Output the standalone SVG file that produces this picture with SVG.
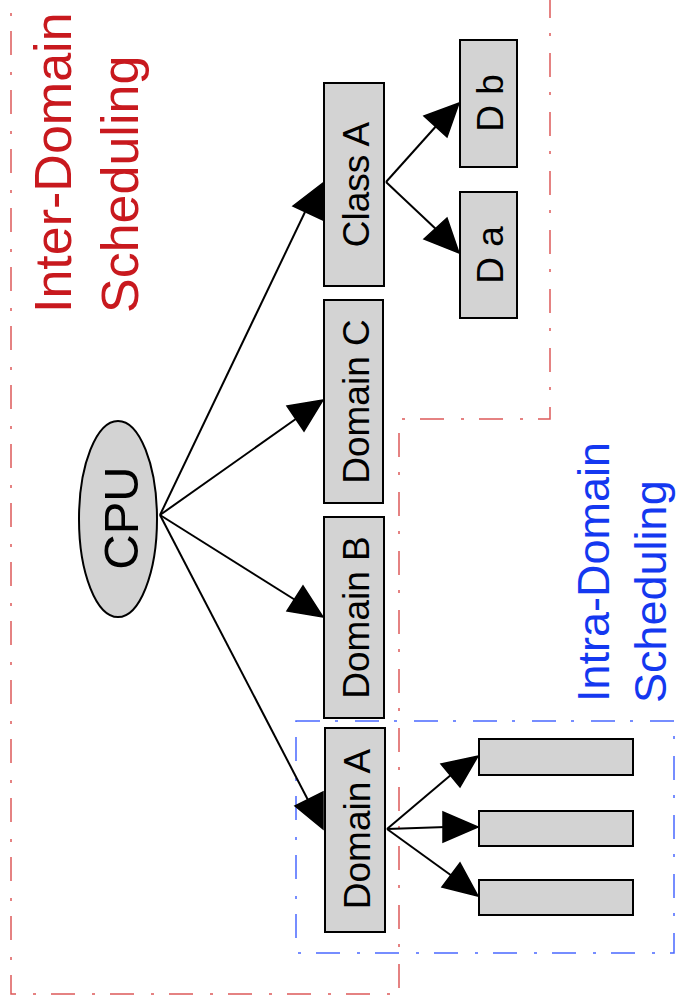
<svg xmlns="http://www.w3.org/2000/svg" width="677" height="1007" viewBox="0 0 677 1007">
  <style>
    .box { fill: #d3d3d3; stroke: #000; stroke-width: 2; }
    .lbl { font-family: "Liberation Sans", Arial, sans-serif; font-size: 37px; fill: #000; text-anchor: middle; }
    .big { font-size: 49px; }
    .edge { stroke: #000; stroke-width: 2; fill: none; }
    .head { fill: #000; stroke: #000; stroke-width: 1.5; stroke-linejoin: miter; }
    .inter { fill: none; stroke: #dd5a5a; stroke-width: 1.5; stroke-dasharray: 24 15 3 17; }
    .intra { fill: none; stroke: #4a68ff; stroke-width: 1.5; stroke-dasharray: 24 15 3 17; }
    .title { font-family: "Liberation Sans", Arial, sans-serif; }
  </style>

  <!-- scheduling regions -->
  <g id="regions">
    <path class="inter" d="M 550 -6 L 550 419 L 399 419 L 399 994 L 11 994 L 11 -6"/>
    <rect class="intra" x="296" y="721" width="378" height="232"/>
  </g>

  <g id="region-labels">
    <text class="title" transform="translate(71,313) rotate(-90)" font-size="52" fill="#c8191e">Inter-Domain</text>
    <text class="title" transform="translate(138,313) rotate(-90)" font-size="52" fill="#c8191e">Scheduling</text>
    <text class="title" transform="translate(609,702) rotate(-90)" font-size="45" fill="#1438f0">Intra-Domain</text>
    <text class="title" transform="translate(666,703) rotate(-90)" font-size="45" fill="#1438f0">Scheduling</text>
  </g>

  <!-- connectors -->
  <g id="connectors">
    <line class="edge" x1="160" y1="515" x2="305" y2="212"/>
    <polygon class="head" points="293,206 323,183 323,220"/>
    <line class="edge" x1="160" y1="515" x2="300" y2="416"/>
    <polygon class="head" points="287,406 323,400 304,431"/>
    <line class="edge" x1="160" y1="515" x2="300" y2="603"/>
    <polygon class="head" points="287,611 303,586 323,617"/>
    <line class="edge" x1="160" y1="515" x2="308" y2="800"/>
    <polygon class="head" points="295,806 323,792 323,829"/>

    <line class="edge" x1="386" y1="182" x2="438" y2="124"/>
    <polygon class="head" points="424,116 459,103 447,137"/>
    <line class="edge" x1="386" y1="182" x2="438" y2="231"/>
    <polygon class="head" points="424,239 447,218 459,253"/>

    <line class="edge" x1="387" y1="829" x2="452" y2="774"/>
    <polygon class="head" points="441,764 478,756 460,787"/>
    <line class="edge" x1="387" y1="829" x2="446" y2="827"/>
    <polygon class="head" points="443,812 478,827 443,842"/>
    <line class="edge" x1="387" y1="829" x2="452" y2="876"/>
    <polygon class="head" points="442,887 460,863 478,896"/>
  </g>

  <g id="cpu">
    <ellipse class="box" cx="118" cy="519" rx="39" ry="98"/>
    <text class="lbl big" transform="translate(138,518) rotate(-90)">CPU</text>
  </g>

  <g id="class-a">
    <rect class="box" x="324" y="83" width="60" height="203"/>
    <text class="lbl" transform="translate(369,184.5) rotate(-90)">Class A</text>
  </g>

  <g id="domain-c">
    <rect class="box" x="324" y="300" width="59" height="203"/>
    <text class="lbl" transform="translate(369,401.5) rotate(-90)">Domain C</text>
  </g>

  <g id="domain-b">
    <rect class="box" x="324" y="517" width="60" height="201"/>
    <text class="lbl" transform="translate(369,617.5) rotate(-90)">Domain B</text>
  </g>

  <g id="domain-a">
    <rect class="box" x="325" y="728" width="60" height="204"/>
    <text class="lbl" transform="translate(370,829) rotate(-90)">Domain A</text>
  </g>

  <g id="d-b">
    <rect class="box" x="460" y="40" width="57" height="127"/>
    <text class="lbl" transform="translate(503,103) rotate(-90)">D b</text>
  </g>

  <g id="d-a">
    <rect class="box" x="460" y="192" width="57" height="126"/>
    <text class="lbl" transform="translate(503,255) rotate(-90)">D a</text>
  </g>

  <g id="task-1">
    <rect class="box" x="479" y="739" width="154" height="36"/>
  </g>
  <g id="task-2">
    <rect class="box" x="479" y="811" width="154" height="35"/>
  </g>
  <g id="task-3">
    <rect class="box" x="479" y="880" width="154" height="35"/>
  </g>
</svg>
